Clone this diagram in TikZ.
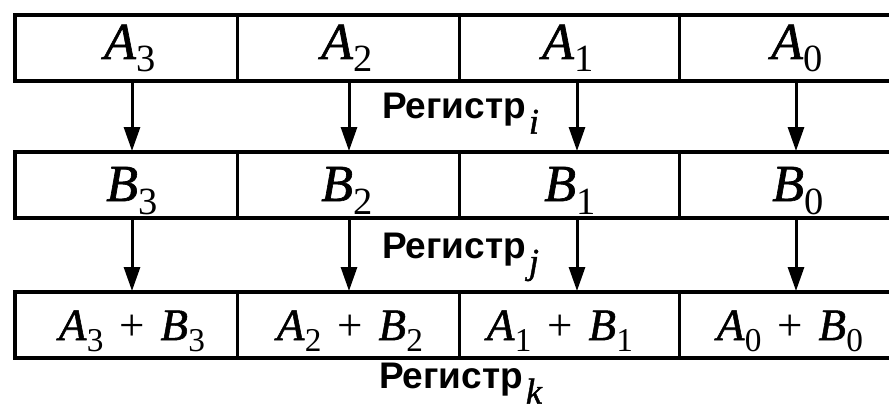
\documentclass[tikz,border=0pt]{standalone}
\usepackage{fontspec}
\setmainfont{Liberation Serif}[ItalicFeatures={FakeBold=1.2}]
\newfontfamily\labfont{Liberation Sans}
\usetikzlibrary{arrows.meta}
\newcommand\vsub[2]{\textit{#1}\kern0.01em\raisebox{-0.25em}{\scalebox{0.74}{#2}}}
\newcommand\regname[1]{{\labfont\bfseries Регистр}\kern0.08em\raisebox{-0.42em}{\fontsize{36}{36}\selectfont\itshape #1}}
\tikzset{
  frame/.style={line width=3.2pt, line join=miter},
  divider/.style={line width=3pt},
  arr/.style={line width=3pt, -{Triangle[length=24pt,width=16pt]}},
  big/.style={inner sep=0pt, anchor=base, font=\fontsize{52}{52}\selectfont},
  sum/.style={inner sep=0pt, anchor=base, font=\fontsize{45}{45}\selectfont},
  reglabel/.style={inner sep=0pt, anchor=base west, font=\fontsize{37}{37}\selectfont}
}
\begin{document}
\begin{tikzpicture}[x=1pt,y=-1pt]
\useasboundingbox (0,0) rectangle (889,412);
% frames (right side runs off the picture)
\foreach \t/\b in {15/81, 152/218, 292/358}{
  \draw[frame] (889,\t) -- (15,\t) -- (15,\b) -- (889,\b);
  \foreach \x in {237,459,679}{ \draw[divider] (\x,\t) -- (\x,\b); }
}
% row 1
\node[big] (a3) at (130,59) {\vsub{A}{3}};
\node[big] (a2) at (347,59) {\vsub{A}{2}};
\node[big] (a1) at (568,59) {\vsub{A}{1}};
\node[big] (a0) at (797,59) {\vsub{A}{0}};
% row 2
\node[big] (b3) at (132,201) {\vsub{B}{3}};
\node[big] (b2) at (347,201) {\vsub{B}{2}};
\node[big] (b1) at (570,201) {\vsub{B}{1}};
\node[big] (b0) at (798,201) {\vsub{B}{0}};
% row 3
\node[sum] (s3) at (132,340) {\vsub{A}{3}\hspace{0.35em}+\hspace{0.35em}\vsub{B}{3}};
\node[sum] (s2) at (350,340) {\vsub{A}{2}\hspace{0.35em}+\hspace{0.35em}\vsub{B}{2}};
\node[sum] (s1) at (560,340) {\vsub{A}{1}\hspace{0.35em}+\hspace{0.35em}\vsub{B}{1}};
\node[sum] (s0) at (790,340) {\vsub{A}{0}\hspace{0.35em}+\hspace{0.35em}\vsub{B}{0}};
% labels
\node[reglabel] (ri) at (382,118) {\regname{i}};
\node[reglabel] (rj) at (382,258) {\regname{j}};
\node[reglabel] (rk) at (379,388) {\regname{k}};
% arrow end points on the frames
\foreach \n/\x in {3/132, 2/349, 1/577, 0/796}{
  \coordinate (ua\n) at (\x,82);
  \coordinate (db\n) at (\x,151);
  \coordinate (ub\n) at (\x,219);
  \coordinate (ds\n) at (\x,291);
}
\foreach \n in {3,2,1,0}{
  \draw[arr] (ua\n) -- (db\n);
  \draw[arr] (ub\n) -- (ds\n);
}
\end{tikzpicture}
\end{document}
